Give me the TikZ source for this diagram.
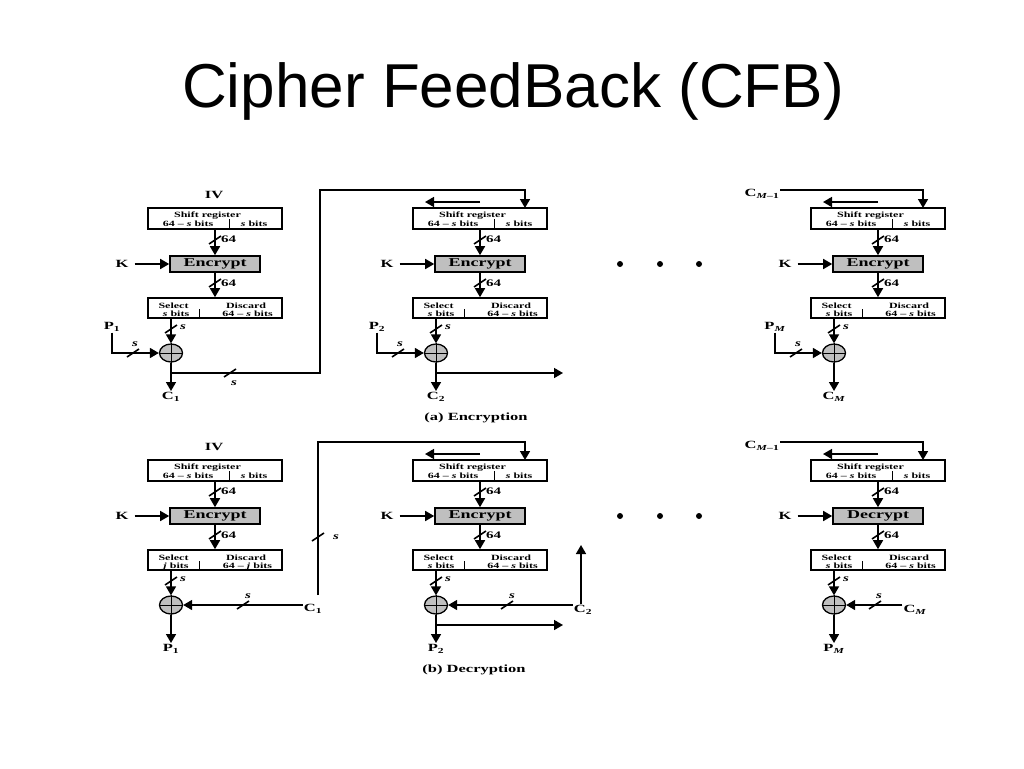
\documentclass[tikz,border=0pt]{standalone}
\usepackage{fontspec}
\setmainfont{Liberation Serif}
\newfontfamily\figfont[FakeStretch=1.5]{Liberation Serif}
\newfontfamily\titlefont{Liberation Sans}
\usetikzlibrary{arrows.meta}
\usetikzlibrary{shapes.geometric}
\tikzset{
  wire/.style={line width=1.6pt},
  >={Triangle[length=9pt,width=10pt]},
  regbox/.style={draw, line width=1.6pt, minimum width=134pt, minimum height=21pt, inner sep=0pt},
  cryptbox/.style={regbox, fill=gray!50, minimum width=90pt, minimum height=16pt,
    font=\figfont\bfseries\fontsize{12}{12}\selectfont},
  boxtext/.style={inner sep=0pt, anchor=base, font=\figfont\bfseries\fontsize{8}{8}\selectfont},
  lbl/.style={inner sep=1pt, font=\figfont\bfseries\fontsize{11}{11}\selectfont},
  numlbl/.style={inner sep=0pt, anchor=west, font=\figfont\bfseries\fontsize{10}{10}\selectfont},
  cutlbl/.style={inner sep=0pt, font=\figfont\bfseries\itshape\fontsize{10}{10}\selectfont},
  caption/.style={inner sep=0pt, font=\figfont\bfseries\fontsize{11}{11}\selectfont},
  xorsym/.style={draw, ellipse, fill=gray!50, line width=1.3pt, minimum width=23pt, minimum height=18pt, inner sep=0pt}
}
\newcommand{\cutmark}[1]{\draw[wire] (#1) ++(-6,4) -- ++(12,-8);}

\begin{document}
\begin{tikzpicture}[x=1pt, y=-1pt]
  \path[use as bounding box, fill=white] (0,0) rectangle (1024,768);
  \node[anchor=base, inner sep=0pt, font=\titlefont\fontsize{62}{62}\selectfont] (title) at (513,107) {Cipher FeedBack (CFB)};

  % one stage: shift register, cipher, select, xor
  \foreach \sx/\sy/\p/\sel/\fn/\out in {
      148/208/e1/s/Encrypt/{C\textsubscript{1}},
      413/208/e2/s/Encrypt/{C\textsubscript{2}},
      811/208/e3/s/Encrypt/{C\textsubscript{\textit{M}}},
      148/460/d1/j/Encrypt/{P\textsubscript{1}},
      413/460/d2/s/Encrypt/{P\textsubscript{2}},
      811/460/d3/s/Decrypt/{P\textsubscript{\textit{M}}}}{
    \begin{scope}[shift={(\sx,\sy)}, name prefix/.expanded=\p-]
      \node[regbox] (sr) at (67,10.5) {};
      \node[boxtext] (sr-t) at (59.5,9) {Shift register};
      \node[boxtext] (sr-l) at (40,18.5) {64 – \textit{s} bits};
      \node[boxtext] (sr-r) at (106,18.5) {\textit{s} bits};
      \draw[line width=1pt] (81,11) -- (81,21);
      \node[cryptbox] (enc) at (67,56) {\fn};
      \node[regbox, minimum height=20pt] (sel) at (67,100) {};
      \node[boxtext] (sel-a) at (25.5,100) {Select};
      \node[boxtext] (sel-b) at (28,108.5) {\textit{\sel} bits};
      \node[boxtext] (sel-c) at (98,100) {Discard};
      \node[boxtext] (sel-d) at (99.5,108.5) {64 – \textit{\sel} bits};
      \draw[line width=1pt] (51,101) -- (51,110);
      \node[xorsym] (xor) at (23,145) {};
      \draw[line width=0.8pt] (xor.north) -- (xor.south) (xor.west) -- (xor.east);
      \node[lbl] (k) at (-26,56) {K};
      \draw[wire,->, shorten <=5pt] (k) -- (enc);
      \draw[wire,->] (sr) -- (enc);
      \cutmark{67,32}
      \node[numlbl] (n1) at (73,31) {64};
      \draw[wire,->] (enc) -- (sel);
      \cutmark{67,75}
      \node[numlbl] (n2) at (73,75) {64};
      \draw[wire,->] (sel.south -| xor) -- (xor.north);
      \cutmark{23,121}
      \node[cutlbl] (s1) at (35,119) {s};
      \node[lbl, anchor=north] (res) at (23,183) {\out};
      \draw[wire,->] (xor) -- (res);
      \coordinate (tap) at (23,165);
      \coordinate (in) at (112,0);
      \coordinate (top) at (112,-18);
      \coordinate (sha) at (67,-6);
      \coordinate (shb) at (12,-6);
    \end{scope}
  }

  % plaintext inputs
  \foreach \sx/\p/\t in {148/e1/1, 413/e2/2, 811/e3/{\textit{M}}}{
    \begin{scope}[shift={(\sx,208)}, name prefix/.expanded=\p-]
      \node[lbl] (pin) at (-36,119) {P\textsubscript{\t}};
      \draw[wire,->] (pin.south) |- (xor);
      \cutmark{-15,145}
      \node[cutlbl] (ps) at (-13,136) {s};
    \end{scope}
  }

  \foreach \p in {e2,e3,d2,d3}
    \draw[wire,->] (\p-sha) -- (\p-shb);

  % encryption
  \node[lbl] (e1-iv) at (214,195) {IV};
  \coordinate (ebend) at (320,190);
  \draw[wire,->] (e1-tap) -| (ebend) -- (e2-top) -- (e2-in);
  \cutmark{230,373}
  \node[cutlbl] (fs1) at (234,383) {s};
  \coordinate (e2-fwd) at (563,373);
  \draw[wire,->] (e2-tap) -- (e2-fwd);
  \node[lbl] (e3-cm) at (762,194) {C\textsubscript{\textit{M}–1}};
  \draw[wire,->] (e3-cm.east |- e3-top) -- (e3-top) -- (e3-in);
  \node[caption] (capa) at (476,418) {(a) Encryption};

  % decryption
  \node[lbl] (d1-iv) at (214,447) {IV};
  \node[lbl] (d1-c) at (313,609) {C\textsubscript{1}};
  \draw[wire,->] (d1-c.west |- d1-xor) -- (d1-xor);
  \cutmark{243,605}
  \node[cutlbl] (dcs1) at (248,596) {s};
  \coordinate (d1-up) at (318,595);
  \draw[wire,->] (d1-up) |- (d2-top) -- (d2-in);
  \cutmark{318,537}
  \node[cutlbl] (dvs) at (336,537) {s};
  \node[lbl] (d2-c) at (583,610) {C\textsubscript{2}};
  \draw[wire,->] (d2-c.west |- d2-xor) -- (d2-xor);
  \cutmark{507,605}
  \node[cutlbl] (dcs2) at (512,596) {s};
  \coordinate (d2-cup) at (581,545);
  \draw[wire,->] (d2-c.north -| d2-cup) -- (d2-cup);
  \coordinate (d2-fwd) at (563,625);
  \draw[wire,->] (d2-tap) -- (d2-fwd);
  \node[lbl] (d3-cm) at (762,446) {C\textsubscript{\textit{M}–1}};
  \draw[wire,->] (d3-cm.east |- d3-top) -- (d3-top) -- (d3-in);
  \node[lbl] (d3-c) at (915,610) {C\textsubscript{\textit{M}}};
  \draw[wire,->] (d3-c.west |- d3-xor) -- (d3-xor);
  \cutmark{875,605}
  \node[cutlbl] (dcs3) at (879,596) {s};
  \node[caption] (capb) at (474,670) {(b) Decryption};

  \foreach \x in {620,660,699} {
    \fill (\x,264) circle (3);
    \fill (\x,516) circle (3);
  }
\end{tikzpicture}
\end{document}
